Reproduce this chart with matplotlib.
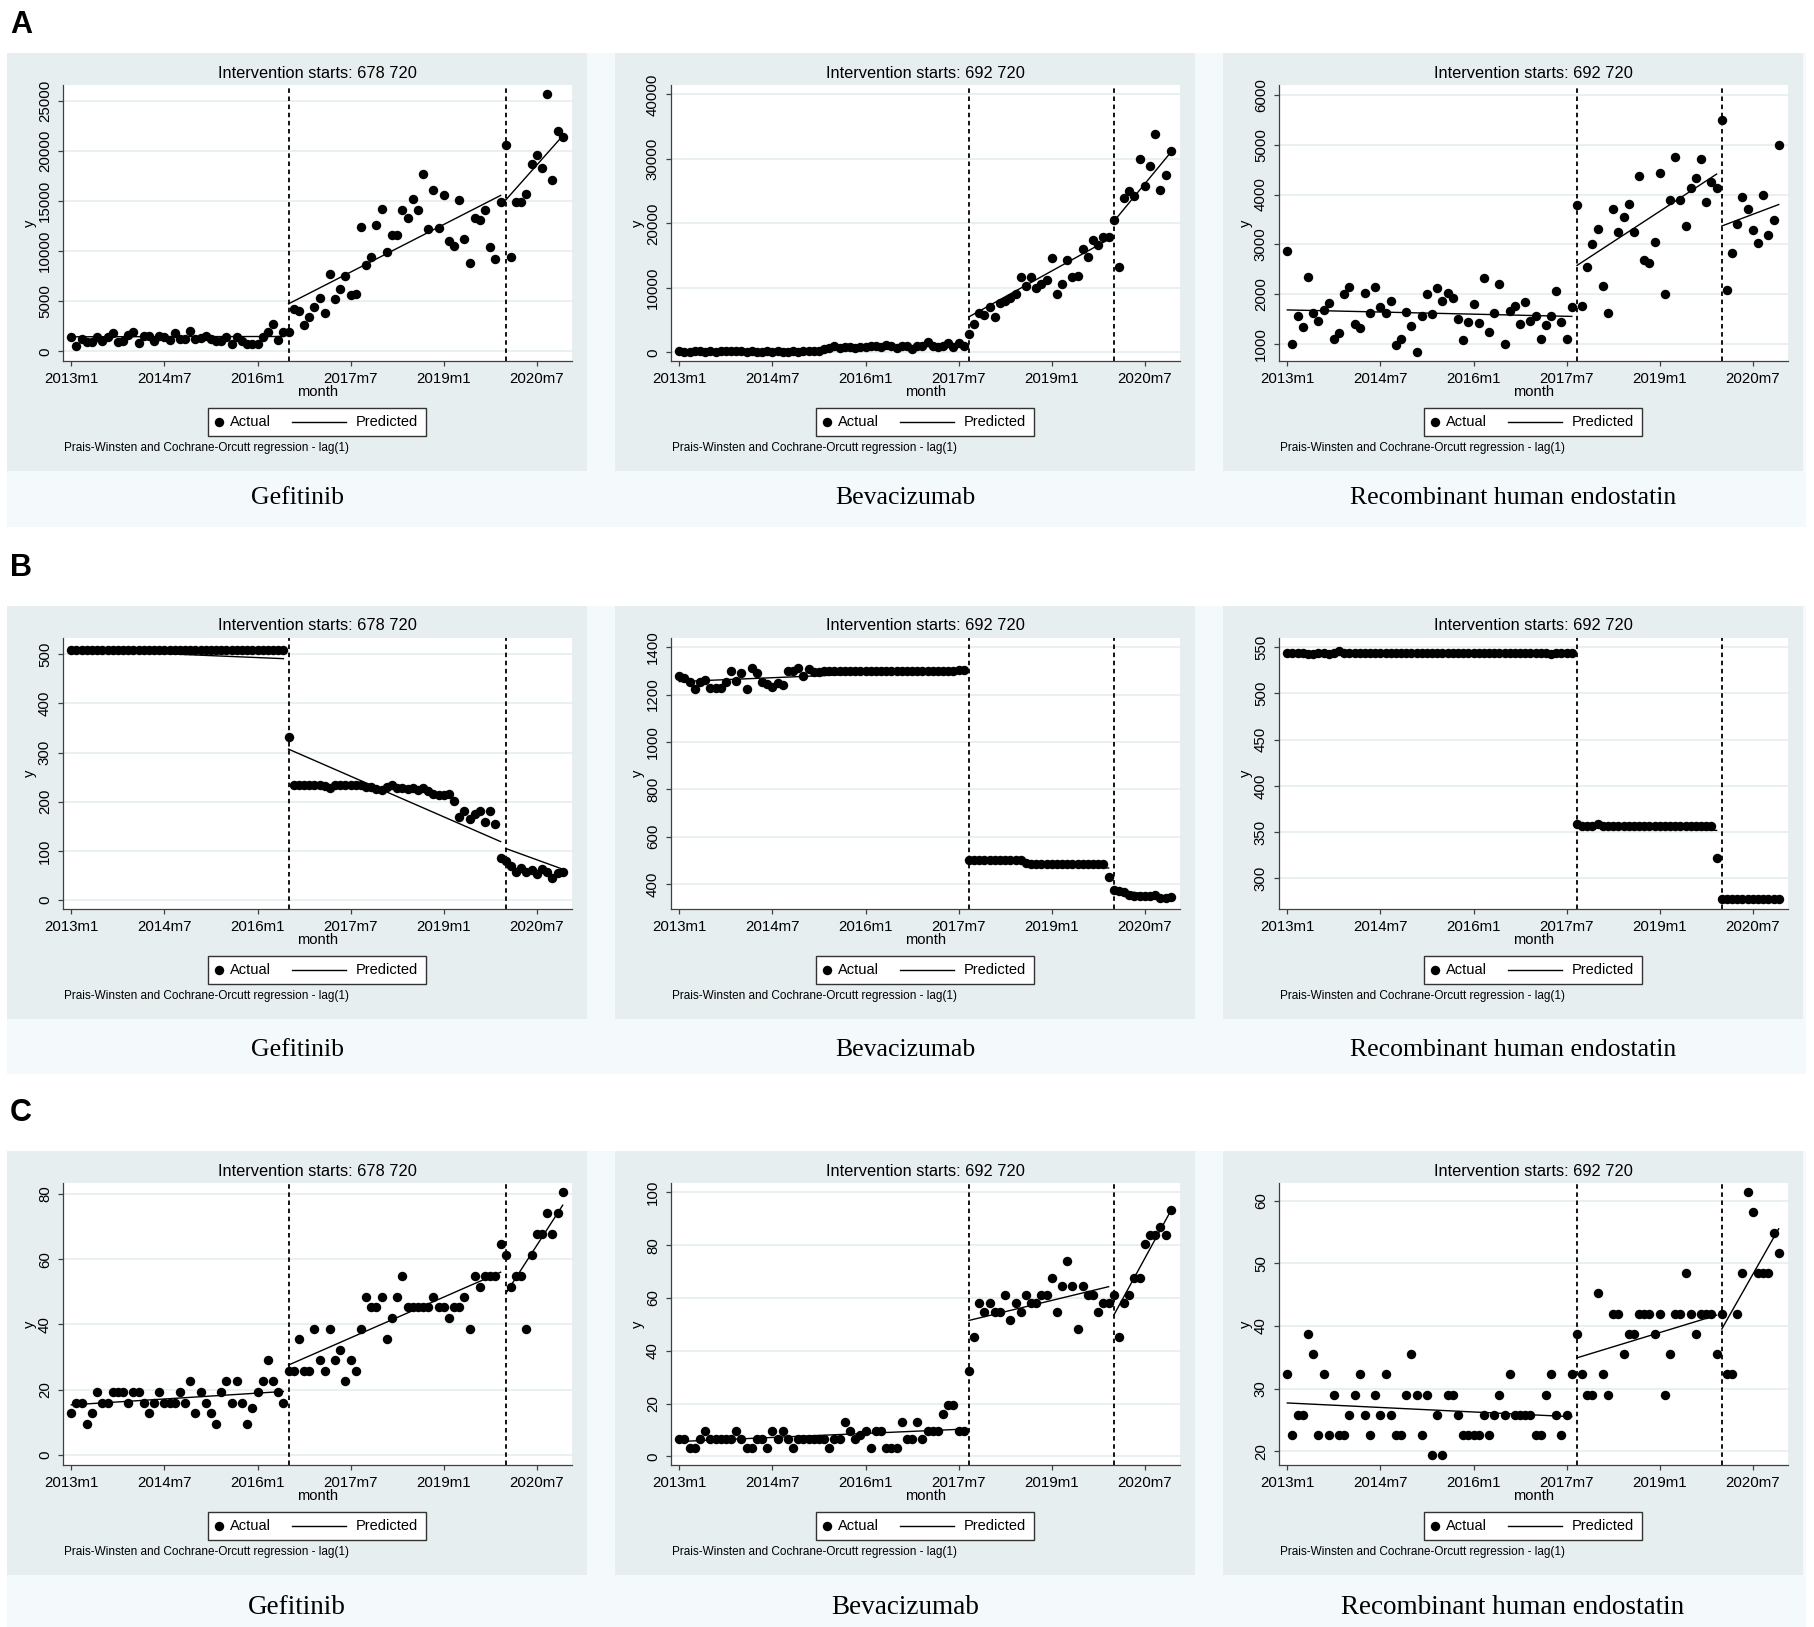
import matplotlib.pyplot as plt
from matplotlib.patches import Rectangle
from matplotlib.lines import Line2D

plt.rcParams['font.family'] = ['Liberation Sans', 'DejaVu Sans']

# Stata monthly dates: 636 = 2013m1 ... 731 = 2020m12
months = list(range(636, 732))
tick_pos = [636, 654, 672, 690, 708, 726]
tick_labels = ['2013m1', '2014m7', '2016m1', '2017m7', '2019m1', '2020m7']
drugs = ['Gefitinib', 'Bevacizumab', 'Recombinant human endostatin']
row_letters = ['A', 'B', 'C']
note = 'Prais-Winsten and Cochrane-Orcutt regression - lag(1)'

# ---- row A ----
a_gef = [1450, 480, 1200, 930, 930, 1450, 1000, 1450, 1830, 930,
         1000, 1600, 1970, 830, 1550, 1550, 1000, 1550, 1450, 1100,
         1830, 1200, 1200, 2040, 1250, 1300, 1550, 1200, 1000, 1000,
         1450, 690, 1450, 1000, 760, 760, 760, 1450, 1970, 2770,
         1100, 1900, 1900, 4200, 4050, 2660, 3430, 4400, 5330, 3810,
         7680, 5190, 6190, 7510, 5600, 5710, 12460, 8620, 9450, 12630,
         14190, 9900, 11660, 11660, 14150, 13320, 15190, 14120, 17680, 12210,
         16160, 12350, 15600, 10970, 10520, 15120, 11210, 8790, 13290, 13110,
         14150, 10380, 9200, 14950, 20590, 9410, 14950, 14950, 15740, 18690,
         19620, 18300, 25740, 17090, 21970, 21380]
a_bev = [150, 100, 50, 200, 150, 100, 150, 100, 150, 200,
         150, 200, 150, 100, 150, 100, 50, 150, 100, 200,
         100, 100, 150, 100, 150, 200, 250, 200, 450, 700,
         950, 600, 800, 750, 700, 800, 850, 900, 1000, 850,
         1100, 950, 700, 1050, 950, 450, 1000, 900, 1600, 1000,
         850, 950, 1400, 800, 1400, 900, 2850, 4400, 6080, 5760,
         7100, 5550, 7700, 8020, 8450, 9000, 11740, 10230, 11740, 10020,
         10550, 11200, 14650, 9000, 10550, 14320, 11740, 11850, 16000, 14810,
         17400, 16590, 17830, 17830, 20570, 13190, 23860, 24990, 24230, 29940,
         25850, 28970, 33870, 25150, 27520, 31290]
a_end = [2870, 1000, 1570, 1350, 2350, 1620, 1460, 1690, 1830, 1100,
         1230, 2000, 2150, 1400, 1320, 2020, 1620, 2140, 1750, 1630,
         1870, 990, 1110, 1640, 1360, 840, 1560, 2000, 1600, 2120,
         1870, 2030, 1930, 1510, 1090, 1450, 1800, 1430, 2330, 1240,
         1630, 2200, 1010, 1660, 1760, 1400, 1850, 1460, 1560, 1110,
         1380, 1570, 2060, 1450, 1100, 1740, 3790, 1760, 2550, 3000,
         3310, 2170, 1630, 3710, 3250, 3550, 3810, 3250, 4370, 2690,
         2630, 3060, 4440, 2010, 3900, 4750, 3900, 3380, 4130, 4330,
         4710, 3850, 4260, 4140, 5490, 2080, 2830, 3410, 3950, 3710,
         3300, 3030, 3990, 3200, 3500, 4990]

# ---- row B ----
b_gef = [509, 509, 509, 509, 509, 509, 509, 509, 509, 509,
         509, 509, 509, 509, 509, 509, 509, 509, 509, 509,
         509, 509, 509, 509, 509, 509, 509, 509, 509, 509,
         509, 509, 509, 509, 509, 509, 509, 509, 509, 509,
         509, 509, 331, 234, 234, 234, 234, 234, 234, 232,
         228, 234, 234, 234, 234, 234, 234, 230, 230, 226,
         224, 230, 235, 228, 228, 226, 228, 224, 228, 222,
         216, 214, 214, 216, 201, 170, 182, 165, 175, 182,
         159, 182, 154, 85, 80, 69, 58, 65, 57, 62,
         53, 63, 58, 45, 55, 58]
b_bev = [1278, 1269, 1254, 1225, 1253, 1262, 1228, 1228, 1228, 1253,
         1299, 1257, 1292, 1225, 1311, 1290, 1254, 1246, 1232, 1251,
         1242, 1299, 1301, 1312, 1278, 1308, 1294, 1294, 1299, 1299,
         1300, 1299, 1300, 1300, 1301, 1300, 1300, 1300, 1301, 1300,
         1300, 1300, 1301, 1300, 1300, 1300, 1301, 1301, 1300, 1301,
         1301, 1300, 1301, 1301, 1302, 1302, 500, 500, 500, 500,
         500, 500, 500, 500, 500, 500, 500, 490, 483, 483,
         483, 483, 483, 483, 483, 483, 483, 483, 483, 483,
         483, 483, 483, 428, 375, 372, 365, 355, 351, 348,
         348, 351, 353, 340, 340, 345]
b_end = [544, 544, 544, 544, 543, 543, 544, 544, 543, 544,
         546, 544, 544, 544, 544, 544, 544, 544, 544, 544,
         544, 544, 544, 544, 544, 544, 544, 544, 544, 544,
         544, 544, 544, 544, 544, 544, 544, 544, 544, 544,
         544, 544, 544, 544, 544, 544, 544, 544, 544, 544,
         544, 543, 544, 544, 544, 544, 358.5, 356.5, 356.5, 356.5,
         358.5, 356.5, 356.5, 356.5, 356.5, 356.5, 356.5, 356.5, 356.5, 356.5,
         356.5, 356.5, 356.5, 356.5, 356.5, 356.5, 356.5, 356.5, 356.5, 356.5,
         356.5, 356.5, 356.5, 322, 278, 278, 278, 278, 278, 278,
         278, 278, 278, 278, 278, 278]

# ---- row C ----
c_gef = [12.9, 16.1, 16.1, 9.7, 12.9, 19.4, 16.1, 16.1, 19.4, 19.4,
         19.4, 16.1, 19.4, 19.4, 16.1, 12.9, 16.1, 19.4, 16.1, 16.1,
         16.1, 19.4, 16.1, 22.6, 12.9, 19.4, 16.1, 12.9, 9.7, 19.4,
         22.6, 16.1, 22.6, 16.1, 9.7, 14.5, 19.4, 22.6, 29.0, 22.6,
         19.4, 16.1, 25.8, 25.8, 35.5, 25.8, 25.8, 38.7, 29.0, 25.8,
         38.7, 29.0, 32.3, 22.6, 29.0, 25.8, 38.7, 48.4, 45.2, 45.2,
         48.4, 35.5, 41.9, 48.4, 54.8, 45.2, 45.2, 45.2, 45.2, 45.2,
         48.4, 45.2, 45.2, 41.9, 45.2, 45.2, 48.4, 38.7, 54.8, 51.6,
         54.8, 54.8, 54.8, 64.5, 61.3, 51.6, 54.8, 54.8, 38.7, 61.3,
         67.7, 67.7, 74.2, 67.7, 74.2, 80.6]
c_bev = [6.45, 6.45, 3.2, 3.2, 6.45, 9.7, 6.45, 6.45, 6.45, 6.45,
         6.45, 9.7, 6.45, 3.2, 3.2, 6.45, 6.45, 3.2, 9.7, 6.45,
         9.7, 6.45, 3.2, 6.45, 6.45, 6.45, 6.45, 6.45, 6.45, 3.2,
         6.45, 6.45, 12.9, 9.7, 6.45, 8.1, 9.7, 3.2, 9.7, 9.7,
         3.2, 3.2, 3.2, 12.9, 6.45, 6.45, 12.9, 6.45, 9.7, 9.7,
         9.7, 16.1, 19.4, 19.4, 9.7, 9.7, 32.3, 45.2, 58.1, 54.8,
         58.1, 54.8, 54.8, 61.3, 51.6, 58.1, 54.8, 61.3, 58.1, 58.1,
         61.3, 61.3, 67.7, 54.8, 64.5, 74.2, 64.5, 48.4, 64.5, 61.3,
         61.3, 54.8, 58.1, 58.1, 61.3, 45.2, 58.1, 61.3, 67.7, 67.7,
         80.6, 83.9, 83.9, 87.1, 83.9, 93.5]
c_end = [32.3, 22.6, 25.8, 25.8, 38.7, 35.5, 22.6, 32.3, 22.6, 29.0,
         22.6, 22.6, 25.8, 29.0, 32.3, 25.8, 22.6, 29.0, 25.8, 32.3,
         25.8, 22.6, 22.6, 29.0, 35.5, 29.0, 22.6, 29.0, 19.35, 25.8,
         19.35, 29.0, 29.0, 25.8, 22.6, 22.6, 22.6, 22.6, 25.8, 22.6,
         25.8, 29.0, 25.8, 32.3, 25.8, 25.8, 25.8, 25.8, 22.6, 22.6,
         29.0, 32.3, 25.8, 22.6, 25.8, 32.3, 38.7, 32.3, 29.0, 29.0,
         45.2, 32.3, 29.0, 41.9, 41.9, 35.5, 38.7, 38.7, 41.9, 41.9,
         41.9, 38.7, 41.9, 29.0, 35.5, 41.9, 41.9, 48.4, 41.9, 38.7,
         41.9, 41.9, 41.9, 35.5, 41.9, 32.3, 32.3, 41.9, 48.4, 61.3,
         58.1, 48.4, 48.4, 48.4, 54.8, 51.6]

# predicted values (start, end) of the three regression segments
a_gef_pred = [(1450, 1480), (4740, 15570), (15120, 21520)]
a_bev_pred = [(150, 1000), (5500, 17500), (20300, 31000)]
a_end_pred = [(1690, 1560), (2580, 4410), (3370, 3800)]
b_gef_pred = [(509, 491), (307, 119), (105, 63)]
b_bev_pred = [(1255, 1305), (500, 468), (378, 342)]
b_end_pred = [(544, 544), (357.5, 352), (278, 278)]
c_gef_pred = [(15.4, 19.5), (27.6, 56), (49.5, 76.5)]
c_bev_pred = [(5.6, 10.3), (51.5, 64.3), (53.5, 93)]
c_end_pred = [(27.7, 25.5), (34.9, 41.7), (39.5, 55.5)]

gef_starts = [678, 720]
other_starts = [692, 720]

a_yticks = [list(range(0, 25001, 5000)), list(range(0, 40001, 10000)), list(range(1000, 6001, 1000))]
b_yticks = [list(range(0, 501, 100)), list(range(400, 1401, 200)), list(range(300, 551, 50))]
c_yticks = [list(range(0, 81, 20)), list(range(0, 101, 20)), list(range(20, 61, 10))]
a_ylim = [(-970, 26600), (-1350, 41460), (667, 6194)]
b_ylim = [(-18, 533), (295, 1439), (267, 560)]
c_ylim = [(-3, 83.3), (-3.3, 103.6), (17.8, 62.8)]

rows = [
    ([a_gef, a_bev, a_end], [a_gef_pred, a_bev_pred, a_end_pred], a_yticks, a_ylim),
    ([b_gef, b_bev, b_end], [b_gef_pred, b_bev_pred, b_end_pred], b_yticks, b_ylim),
    ([c_gef, c_bev, c_end], [c_gef_pred, c_bev_pred, c_end_pred], c_yticks, c_ylim),
]

# ---- layout (pixels) ----
W, H = 1814, 1627
GRAY = '#E7EEF0'
BAND = '#F4F9FB'
GRID = '#E3ECEE'
AXC = '#404040'

col_x = [7, 615, 1223]
row_y = [53, 606, 1151]
row_h = [418, 413, 424]
band_bottom = [527, 1074, 1627]
caption_y = [498, 1050, 1607]
caption_size = [18.5, 18.5, 19.5]
letter_y = [25, 568, 1113]


def fx(x):
    return x / W


def fy(y):
    return 1 - y / H


fig = plt.figure(figsize=(W / 100, H / 100), dpi=100)
fig.patch.set_facecolor('white')

for r, (series, preds, yticks, ylims) in enumerate(rows):
    # light band behind the row and caption
    fig.add_artist(Rectangle((fx(7), fy(band_bottom[r])), (1806 - 7) / W,
                             (band_bottom[r] - row_y[r]) / H, transform=fig.transFigure,
                             facecolor=BAND, edgecolor='none', zorder=-10))
    fig.text(fx(10), fy(letter_y[r]), row_letters[r], fontsize=22, fontweight='bold',
             ha='left', va='center')

    for c in range(3):
        gx, gy, gh = col_x[c], row_y[r], row_h[r]
        fig.add_artist(Rectangle((fx(gx), fy(gy + gh)), 580 / W, gh / H,
                                 transform=fig.transFigure, facecolor=GRAY,
                                 edgecolor='none', zorder=-9))
        px0, px1 = gx + 55.5, gx + 580 - 15
        py0, py1 = gy + 32, gy + gh - 110
        ax = fig.add_axes([fx(px0), fy(py1), (px1 - px0) / W, (py1 - py0) / H])
        ax.set_facecolor('white')

        starts = gef_starts if c == 0 else other_starts
        bounds = [(636, starts[0] - 1), (starts[0], starts[1] - 1), (starts[1], 731)]

        ax.plot(months, series[c], 'o', color='black', ms=6.8, mew=0, zorder=3, clip_on=False)
        for (m0, m1), (v0, v1) in zip(bounds, preds[c]):
            ax.plot([m0, m1], [v0, v1], color='black', lw=1.0, zorder=2.5)
        for t in starts:
            ax.axvline(t, color='black', lw=1.3, ls=(0, (2.5, 2)), zorder=2)

        ax.set_xlim(634.3, 732.8)
        ax.set_ylim(*ylims[c])
        ax.set_xticks(tick_pos)
        ax.set_xticklabels(tick_labels)
        ax.set_yticks(yticks[c])
        ax.yaxis.grid(True, color=GRID, lw=1.1)
        ax.set_axisbelow(True)
        for s in ['top', 'right']:
            ax.spines[s].set_visible(False)
        for s in ['left', 'bottom']:
            ax.spines[s].set_color(AXC)
            ax.spines[s].set_linewidth(0.9)
        ax.tick_params(direction='out', length=3.6, width=0.9, color=AXC,
                       labelsize=10.8, pad=4)
        ax.tick_params(axis='y', labelrotation=90)
        for lab in ax.get_yticklabels():
            lab.set_va('center')

        cx = (px0 + px1) / 2
        title = 'Intervention starts: %d %d' % (starts[0], starts[1])
        fig.text(fx(cx), fy(py0 - 12), title, ha='center', va='center', fontsize=11.8)
        fig.text(fx(cx), fy(py1 + 31), 'month', ha='center', va='center', fontsize=10.6)
        fig.text(fx(px0 - 33), fy((py0 + py1) / 2), 'y', ha='center', va='center',
                 rotation=90, fontsize=10.6)

        # legend box
        bx, by0, by1 = cx - 109, py1 + 47, py1 + 75
        ly = (by0 + by1) / 2
        fig.add_artist(Rectangle((fx(bx), fy(by1)), 218 / W, (by1 - by0) / H,
                                 transform=fig.transFigure, facecolor='white',
                                 edgecolor='#333333', lw=1.0))
        fig.add_artist(Line2D([fx(bx + 10.5)], [fy(ly)], marker='o', color='black',
                              ms=6.8, mew=0, transform=fig.transFigure))
        fig.text(fx(bx + 22), fy(ly), 'Actual', ha='left', va='center', fontsize=10.5)
        fig.add_artist(Line2D([fx(bx + 84), fx(bx + 138)], [fy(ly), fy(ly)], color='black',
                              lw=1.0, transform=fig.transFigure))
        fig.text(fx(bx + 147.5), fy(ly), 'Predicted', ha='left', va='center', fontsize=10.5)

        fig.text(fx(px0 + 2), fy(py1 + 87), note, ha='left', va='center', fontsize=8.5)
        fig.text(fx(gx + 290), fy(caption_y[r]), drugs[c], ha='center', va='center',
                 family=['Liberation Serif', 'DejaVu Serif'], fontsize=caption_size[r])

fig.savefig('out.png', dpi=100, facecolor='white')
